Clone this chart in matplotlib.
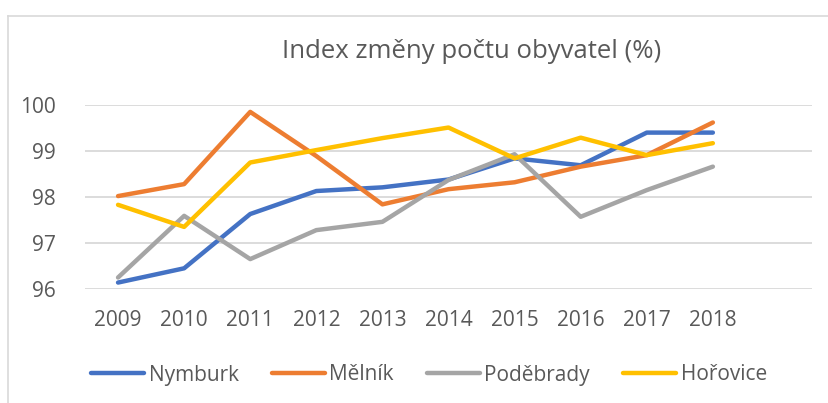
import matplotlib
matplotlib.use("Agg")
import matplotlib.pyplot as plt
from matplotlib.lines import Line2D

plt.rcParams['font.family'] = ['Open Sans', 'DejaVu Sans']

# Data
years = ["2009", "2010", "2011", "2012", "2013", "2014", "2015", "2016", "2017", "2018"]
nymburk = [96.14, 96.45, 97.63, 98.13, 98.21, 98.38, 98.84, 98.69, 99.40, 99.40]
melnik = [98.02, 98.28, 99.85, 98.89, 97.84, 98.17, 98.32, 98.66, 98.91, 99.62]
podebrady = [96.25, 97.59, 96.65, 97.28, 97.46, 98.37, 98.93, 97.57, 98.15, 98.66]
horovice = [97.83, 97.35, 98.75, 99.02, 99.28, 99.51, 98.84, 99.29, 98.91, 99.17]

names = ["Nymburk", "Mělník", "Poděbrady", "Hořovice"]
colors = ["#4472C4", "#ED7D31", "#A5A5A5", "#FFC000"]
text_col = "#595959"

fig = plt.figure(figsize=(8.29, 4.03), dpi=100)
ax = fig.add_axes([85 / 829, 1 - 289 / 403, 727 / 829, 184 / 403])

x = list(range(len(years)))
for vals, c in zip([nymburk, melnik, podebrady, horovice], colors):
    ax.plot(x, vals, color=c, lw=3.2, solid_capstyle="round", solid_joinstyle="round")

ax.set_xlim(-0.5, 10.5)
ax.set_ylim(96, 100)
ax.set_yticks([96, 97, 98, 99, 100])
ax.set_xticks(x)
ax.set_xticklabels(years)
ax.grid(axis="y", color="#D9D9D9", lw=1.3)
ax.set_axisbelow(True)
for s in ax.spines.values():
    s.set_visible(False)
ax.tick_params(length=0, labelsize=15, labelcolor=text_col)
ax.tick_params(axis="y", pad=21)
ax.tick_params(axis="x", pad=15)

fig.text(472 / 829, 1 - 51 / 403, "Index změny počtu obyvatel (%)", ha="center", va="center",
         fontsize=18.5, color=text_col)

handles = [Line2D([], [], color=c, lw=3.2, solid_capstyle="round") for c in colors]
fig.legend(handles, names, loc="center", bbox_to_anchor=(429 / 829, 1 - 375 / 403), ncol=4,
           frameon=False, fontsize=15, labelcolor=text_col, handlelength=2.55,
           handletextpad=0.2, columnspacing=1.6)

# chart area border (partially cropped in the reference)
fig.add_artist(Line2D([8 / 829, 8 / 829], [0, 1 - 16 / 403], color="#D9D9D9", lw=1.2))
fig.add_artist(Line2D([8 / 829, 1], [1 - 16 / 403, 1 - 16 / 403], color="#D9D9D9", lw=1.2))

fig.savefig("out.png", dpi=100)
